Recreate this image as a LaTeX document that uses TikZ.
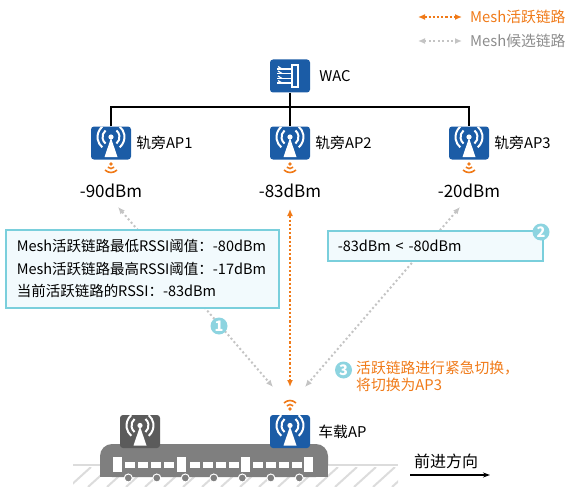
\documentclass[tikz,border=0pt]{standalone}
\usepackage{fontspec}
\setmainfont{Noto Sans CJK SC}
\usetikzlibrary{positioning,arrows.meta}

\definecolor{apblue}{HTML}{1B5CA6}
\definecolor{apgray}{HTML}{5B5B5B}
\definecolor{linkorange}{HTML}{F07A18}
\definecolor{linkgray}{HTML}{C4C4C4}
\definecolor{legendgray}{HTML}{8C8C8C}
\definecolor{boxline}{HTML}{7ACFDC}
\definecolor{boxfill}{HTML}{F2FAFD}
\definecolor{badgecyan}{HTML}{8DD4E0}
\definecolor{traingray}{HTML}{7F7F7F}
\definecolor{groundgray}{HTML}{DCDCDC}

% access point: rounded square with a white antenna
\tikzset{apnode/.style = {rounded corners=3pt, minimum width=40pt, minimum height=33pt, inner sep=0pt, fill=#1,
  path picture={
    \coordinate (c) at (path picture bounding box.center);
    \fill[white, sharp corners] ([shift={(0,5pt)}]c) -- ([shift={(6.5pt,-14pt)}]c) -- ([shift={(-6.5pt,-14pt)}]c) -- cycle;
    \fill[white] ([shift={(0,6pt)}]c) circle[radius=2.6pt];
    \foreach \r in {8.5pt,13.5pt} {
      \draw[white, line width=2pt] ([shift={(0,6pt)}]c) ++(130:\r) arc[start angle=130, end angle=230, radius=\r];
      \draw[white, line width=2pt] ([shift={(0,6pt)}]c) ++(-50:\r) arc[start angle=-50, end angle=50, radius=\r];
    }
  }}}
\tikzset{wacnode/.style = {rounded corners=3pt, minimum width=40pt, minimum height=33pt, inner sep=0pt, fill=apblue,
  path picture={
    \coordinate (c) at (path picture bounding box.center);
    \draw[white, line width=1.5pt, sharp corners] ([shift={(2pt,11pt)}]c) rectangle ([shift={(8pt,-11pt)}]c);
    \foreach \y in {7pt,2.5pt,-2.5pt,-7pt} {
      \draw[white, line width=1.2pt] ([shift={(-13pt,\y)}]c) -- ([shift={(2pt,\y)}]c);
      \draw[white, line width=1.2pt] ([shift={(-8pt,\y)}]c) -- ([shift={(-12pt,\y+2.5pt)}]c);
    }
  }}}
\tikzset{aplabel/.style = {inner sep=0pt}}
\tikzset{dbm/.style = {font=\fontsize{17}{20}\selectfont}}
\tikzset{infobox/.style = {draw=boxline, fill=boxfill, line width=1.5pt, align=left, inner xsep=11pt}}
\tikzset{badge/.style = {circle, fill=badgecyan, text=white, inner sep=0pt, minimum size=17pt, font=\bfseries\fontsize{14.5}{14.5}\selectfont}}
\tikzset{activelink/.style = {draw=linkorange, line width=2.2pt, dash pattern=on 2.2pt off 2pt, <->}}
\tikzset{standbylink/.style = {draw=linkgray, line width=2pt, dash pattern=on 2pt off 2.5pt, <->}}
\tikzset{sigdown/.pic = {
  \fill[linkorange] (0,0) circle[radius=1.8pt];
  \foreach \r in {4.5pt,8.5pt}
    \draw[linkorange, line width=1.6pt] (-45:\r) arc[start angle=-45, end angle=-135, radius=\r];
}}
\tikzset{sigup/.pic = {
  \fill[linkorange] (0,0) circle[radius=1.8pt];
  \foreach \r in {4.5pt,8.5pt}
    \draw[linkorange, line width=1.6pt] (45:\r) arc[start angle=45, end angle=135, radius=\r];
}}

\begin{document}
\begin{tikzpicture}[x=1pt, y=-1pt, >={Latex[length=7pt,width=6pt]}, font=\fontsize{14.8}{17}\selectfont]
  \useasboundingbox (0,0) rectangle (568,487);

  % legend
  \coordinate (lga) at (418,17);
  \coordinate (lgb) at (462,17);
  \coordinate (lgc) at (418,41);
  \coordinate (lgd) at (462,41);
  \draw [activelink] (lga) -- (lgb);
  \draw [standbylink] (lgc) -- (lgd);
  \node [aplabel, anchor=west, text=linkorange] (lgact) at (470,17) {Mesh活跃链路};
  \node [aplabel, anchor=west, text=legendgray] (lgstb) at (470,41) {Mesh候选链路};

  % controller and trackside APs
  \node [wacnode] (wac) at (290,76) {};
  \node [aplabel, right=9pt of wac] (waclbl) {WAC};
  \node [apnode=apblue] (ap1) at (111,143) {};
  \node [apnode=apblue] (ap2) at (290,143) {};
  \node [apnode=apblue] (ap3) at (469,143) {};
  \node [aplabel, right=5pt of ap1] (ap1lbl) {轨旁AP1};
  \node [aplabel, right=5pt of ap2] (ap2lbl) {轨旁AP2};
  \node [aplabel, right=5pt of ap3] (ap3lbl) {轨旁AP3};

  \coordinate (bus) at (290,107);
  \draw [line width=1.5pt] (wac) -- (ap2);
  \draw [line width=1.5pt] (ap1.north) |- (bus) -| (ap3.north);

  \pic at (111,164) {sigdown};
  \pic at (290,164) {sigdown};
  \pic at (469,164) {sigdown};
  \node [dbm] (dbm1) at (111,191) {-90dBm};
  \node [dbm] (dbm2) at (290,191) {-83dBm};
  \node [dbm] (dbm3) at (469,191) {-20dBm};

  % links towards the train
  \coordinate (g1a) at (118,207);
  \coordinate (g1b) at (273,387);
  \coordinate (oa) at (290,209);
  \coordinate (ob) at (290,387);
  \coordinate (g3a) at (460,207);
  \coordinate (g3b) at (305,387);
  \draw [standbylink] (g1a) -- (g1b);
  \draw [standbylink] (g3a) -- (g3b);
  \draw [activelink] (oa) -- (ob);

  \node [infobox, anchor=north west, text width=251pt, minimum height=78pt, font=\fontsize{14.5}{22.5}\selectfont] (box1) at (5,229)
    {Mesh活跃链路最低RSSI阈值：-80dBm\\Mesh活跃链路最高RSSI阈值：-17dBm\\当前活跃链路的RSSI：-83dBm};
  \node [infobox, anchor=north west, inner xsep=10pt, text width=195pt, minimum height=30pt, font=\fontsize{14.5}{17}\selectfont] (box2) at (327,230)
    {-83dBm < -80dBm};
  \node [badge] (b1) at (219,326) {1};
  \node [badge] (b2) at (541,232) {2};
  \node [badge] (b3) at (343.5,370) {3};
  \node [aplabel, anchor=west, align=left, text=linkorange] (b3lbl) at (356,376.5)
    {活跃链路进行紧急切换，\\将切换为AP3};

  % track
  \draw [groundgray, line width=2.5pt] (73,465) -- (398,465);
  \begin{scope}
    \clip (73,467) rectangle (398,487);
    \foreach \x in {50,69,...,400}
      \draw [groundgray, line width=2pt] (\x,487) -- (\x+22,467);
  \end{scope}

  % train
  \fill [traingray, rounded corners=12pt] (100,444) rectangle (328,477);
  \fill [traingray] (100,458) rectangle (328,477);
  \foreach \x in {113,177,241,304}
    \fill [white] (\x,457) rectangle ++(9,15);
  \foreach \g in {125,190,253}
    \foreach \i in {0,...,3}
      \fill [white] (\g+13*\i,462) rectangle ++(10,6);
  \foreach \i in {0,...,6}
    \filldraw [fill=traingray, draw=white, line width=1pt] (128.3+28.5*\i,478) circle[radius=4pt];

  \node [apnode=apgray] (gap) at (140,431.5) {};
  \node [apnode=apblue] (tap) at (290,431.5) {};
  \node [aplabel, right=8pt of tap] (taplbl) {车载AP};
  \pic at (290,409) {sigup};

  % direction of travel
  \node [font=\fontsize{16}{18}\selectfont] (dirlbl) at (446,461) {前进方向};
  \coordinate (dira) at (410,475);
  \coordinate (dirb) at (490,475);
  \draw [-{Stealth[length=7pt,width=5pt]}, line width=1.2pt] (dira) -- (dirb);
\end{tikzpicture}
\end{document}
